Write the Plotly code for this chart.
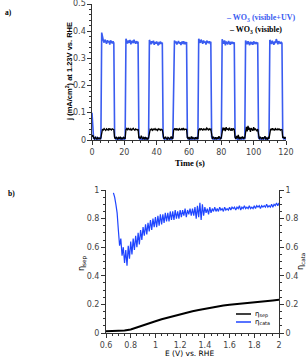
import numpy as np
import plotly.graph_objects as go

W, H = 307, 358

# ---------------- panel a) data ----------------
time_s = np.round(np.arange(0, 120.001, 0.5), 2)

blue_segments = [
    [0.100, 0.012, 0.004, 0.007, 0.003, 0.009, 0.005, 0.002, 0.006, 0.004, 0.008, 0.003],
    [0.395, 0.372, 0.366, 0.358, 0.369, 0.361, 0.354, 0.367, 0.359, 0.364, 0.351, 0.366, 0.360, 0.355, 0.363, 0.357],
    [0.012, 0.005, 0.002, 0.007, 0.004, 0.009, 0.003, 0.006, 0.001, 0.008, 0.004, 0.006, 0.002, 0.005],
    [0.372, 0.362, 0.355, 0.366, 0.358, 0.368, 0.352, 0.361, 0.365, 0.356, 0.369, 0.360, 0.354, 0.363, 0.358, 0.361],
    [0.010, 0.004, 0.007, 0.002, 0.006, 0.003, 0.008, 0.005, 0.001, 0.007, 0.004, 0.006, 0.003],
    [0.368, 0.359, 0.352, 0.363, 0.356, 0.365, 0.350, 0.360, 0.354, 0.362, 0.357, 0.348, 0.361, 0.355, 0.359, 0.353, 0.358],
    [0.011, 0.005, 0.003, 0.008, 0.004, 0.006, 0.002, 0.007, 0.005, 0.003, 0.009, 0.004, 0.006],
    [0.240, 0.366, 0.356, 0.362, 0.351, 0.360, 0.364, 0.355, 0.359, 0.349, 0.361, 0.357, 0.363, 0.352, 0.358, 0.354, 0.360],
    [0.010, 0.004, 0.007, 0.003, 0.006, 0.002, 0.008, 0.005, 0.003, 0.007, 0.004, 0.009, 0.005, 0.002],
    [0.372, 0.364, 0.357, 0.369, 0.360, 0.354, 0.366, 0.358, 0.362, 0.351, 0.365, 0.359, 0.356, 0.363, 0.357, 0.361],
    [0.012, 0.005, 0.003, 0.008, 0.004, 0.010, 0.002, 0.006, 0.004, 0.007, 0.003, 0.008, 0.005],
    [0.370, 0.361, 0.354, 0.366, 0.348, 0.362, 0.357, 0.352, 0.364, 0.358, 0.350, 0.361, 0.356, 0.360, 0.353, 0.359],
    [0.011, 0.004, 0.008, 0.003, 0.006, 0.002, 0.009, 0.005, 0.003, 0.007, 0.004, 0.006, 0.003],
    [0.366, 0.358, 0.352, 0.363, 0.356, 0.349, 0.361, 0.355, 0.359, 0.350, 0.362, 0.357, 0.353, 0.360, 0.355, 0.358],
    [0.010, 0.005, 0.002, 0.007, 0.004, 0.009, 0.003, 0.006, 0.004, 0.008, 0.002, 0.006, 0.004, 0.007],
    [0.368, 0.360, 0.353, 0.365, 0.357, 0.350, 0.362, 0.356, 0.371, 0.358, 0.352, 0.363, 0.357, 0.354, 0.361, 0.356],
    [0.011, 0.005, 0.008, 0.003, 0.006],
]

black_segments = [
    [0.012, 0.018, 0.008, 0.004, 0.010, 0.006, 0.003, 0.009, 0.005, 0.007, 0.004, 0.008],
    [0.036, 0.040, 0.037, 0.042, 0.038, 0.035, 0.041, 0.039, 0.036, 0.043, 0.038, 0.040, 0.037, 0.041, 0.039, 0.038],
    [0.008, 0.004, 0.011, 0.006, 0.003, 0.009, 0.005, 0.012, 0.004, 0.007, 0.003, 0.010, 0.006, 0.005],
    [0.038, 0.042, 0.036, 0.044, 0.039, 0.037, 0.041, 0.035, 0.040, 0.043, 0.038, 0.036, 0.041, 0.039, 0.037, 0.040],
    [0.007, 0.010, 0.004, 0.016, 0.006, 0.003, 0.009, 0.005, 0.011, 0.004, 0.007, 0.003, 0.008],
    [0.035, 0.039, 0.037, 0.041, 0.036, 0.040, 0.038, 0.042, 0.037, 0.039, 0.035, 0.041, 0.038, 0.040, 0.036, 0.039, 0.037],
    [0.009, 0.004, 0.007, 0.012, 0.005, 0.003, 0.010, 0.006, 0.004, 0.008, 0.013, 0.005, 0.007],
    [0.036, 0.041, 0.038, 0.043, 0.037, 0.040, 0.035, 0.042, 0.039, 0.037, 0.041, 0.038, 0.044, 0.036, 0.040, 0.038, 0.039],
    [0.008, 0.005, 0.011, 0.004, 0.007, 0.013, 0.003, 0.009, 0.006, 0.004, 0.010, 0.005, 0.008, 0.004],
    [0.037, 0.041, 0.036, 0.043, 0.039, 0.035, 0.042, 0.038, 0.040, 0.036, 0.044, 0.039, 0.037, 0.041, 0.038, 0.040],
    [0.009, 0.004, 0.012, 0.006, 0.003, 0.010, 0.005, 0.008, 0.004, 0.014, 0.006, 0.003, 0.009],
    [0.040, 0.046, 0.036, 0.044, 0.033, 0.047, 0.038, 0.042, 0.035, 0.045, 0.039, 0.034, 0.043, 0.037, 0.041, 0.038],
    [0.010, 0.004, 0.015, 0.006, 0.019, 0.003, 0.011, 0.005, 0.008, 0.013, 0.004, 0.009, 0.006],
    [0.035, 0.048, 0.032, 0.052, 0.037, 0.045, 0.030, 0.044, 0.039, 0.034, 0.047, 0.036, 0.042, 0.038, 0.033, 0.040],
    [0.009, 0.004, 0.012, 0.006, 0.003, 0.010, 0.005, 0.008, 0.014, 0.004, 0.007, 0.003, 0.009, 0.005],
    [0.036, 0.041, 0.038, 0.043, 0.037, 0.040, 0.035, 0.042, 0.039, 0.037, 0.041, 0.038, 0.040, 0.036, 0.039, 0.038],
    [0.008, 0.012, 0.005, 0.009, 0.006],
]

j_vis_uv = [v for seg in blue_segments for v in seg]
j_vis = [v for seg in black_segments for v in seg]

j_ticks = [0, 0.1, 0.2, 0.3, 0.4, 0.5]
j_tick_labels = ["0", "0.1", "0.2", "0.3", "0.4", "0.5"]

# ---------------- panel b) data ----------------
E_cata = np.round(np.arange(0.66, 2.0001, 0.01), 2)
eta_cata = [
    0.98, 0.95, 0.90, 0.84,
    0.72, 0.61, 0.66, 0.54, 0.60, 0.49, 0.58, 0.47, 0.61, 0.52,
    0.64, 0.55, 0.66, 0.58, 0.68, 0.60, 0.70, 0.62, 0.72, 0.65,
    0.74, 0.68, 0.76, 0.69, 0.77, 0.71, 0.79, 0.72, 0.80, 0.74,
    0.81, 0.74, 0.82, 0.75, 0.83, 0.76, 0.83, 0.77, 0.84, 0.78,
    0.84, 0.78, 0.85, 0.79, 0.85, 0.79, 0.86, 0.80, 0.85, 0.80,
    0.86, 0.81, 0.86, 0.82, 0.87, 0.81, 0.86, 0.83, 0.87, 0.82,
    0.87, 0.82, 0.88, 0.80, 0.89, 0.81, 0.91, 0.79, 0.90, 0.82,
    0.88, 0.84, 0.87, 0.83, 0.88, 0.84, 0.87, 0.85, 0.88, 0.85,
    0.87, 0.85, 0.88, 0.86, 0.87, 0.85, 0.88, 0.86, 0.87, 0.86,
    0.88, 0.86, 0.88, 0.87, 0.88, 0.86, 0.88, 0.87, 0.89, 0.86,
    0.88, 0.87, 0.89, 0.87, 0.88, 0.87, 0.89, 0.87, 0.88, 0.87,
    0.89, 0.87, 0.89, 0.88, 0.89, 0.87, 0.89, 0.88, 0.89, 0.88,
    0.90, 0.88, 0.89, 0.88, 0.90, 0.88, 0.90, 0.89, 0.91, 0.89,
    0.91,
]
E_sep = [0.60, 0.65, 0.70, 0.75, 0.80, 0.85, 0.90, 0.95, 1.00, 1.05, 1.10, 1.15, 1.20, 1.25,
         1.30, 1.35, 1.40, 1.45, 1.50, 1.55, 1.60, 1.65, 1.70, 1.75, 1.80, 1.85, 1.90, 1.95, 2.00]
eta_sep = [0.012, 0.012, 0.013, 0.017, 0.025, 0.038, 0.052, 0.067, 0.082, 0.096, 0.108, 0.120, 0.131, 0.142,
           0.152, 0.161, 0.170, 0.178, 0.186, 0.192, 0.198, 0.203, 0.208, 0.212, 0.216, 0.220, 0.224, 0.228, 0.232]

BLUE_A = "#3a5cf0"
BLUE_B = "#1f45ff"

def px(x):
    return x / W

def py(y):
    return 1 - y / H

fig = go.Figure()
fig.add_trace(go.Scatter(x=time_s, y=j_vis_uv, mode="lines", line=dict(color=BLUE_A, width=1.6),
                         xaxis="x", yaxis="y", showlegend=False))
fig.add_trace(go.Scatter(x=time_s, y=j_vis, mode="lines", line=dict(color="black", width=1.3),
                         xaxis="x", yaxis="y", showlegend=False))
fig.add_trace(go.Scatter(x=E_cata, y=eta_cata, mode="lines", line=dict(color=BLUE_B, width=1.2),
                         xaxis="x2", yaxis="y3", showlegend=False))
fig.add_trace(go.Scatter(x=E_sep, y=eta_sep, mode="lines", line=dict(color="black", width=2),
                         xaxis="x2", yaxis="y2", showlegend=False))

tickfont = dict(family="DejaVu Sans", size=8, color="#444")
axcommon = dict(showline=True, linecolor="#333", linewidth=1, ticks="outside", ticklen=4,
                tickcolor="#333", tickfont=tickfont, showgrid=False, zeroline=False, automargin=False,
                ticklabeloverflow="allow")
minor_style = dict(ticklen=2, ticks="outside", tickcolor="#333", showgrid=False)

fig.update_layout(
    width=W, height=H, autosize=False,
    margin=dict(l=0, r=0, t=0, b=0),
    paper_bgcolor="white", plot_bgcolor="white",
    xaxis=dict(domain=[px(92), px(286)], range=[0, 120], dtick=20, anchor="y",
               minor=dict(dtick=5, **minor_style), **axcommon),
    yaxis=dict(domain=[py(140), py(4)], range=[0, 0.5], tickmode="array",
               tickvals=j_ticks, showticklabels=False, anchor="x",
               minor=dict(tickmode="array", tickvals=[i / 50 for i in range(26)], **minor_style),
               **axcommon),
    xaxis2=dict(domain=[px(106), px(279)], range=[0.6, 2.0], dtick=0.2, anchor="y2",
                minor=dict(tickmode="array", tickvals=[i / 20 for i in range(12, 41)], **minor_style),
                **axcommon),
    yaxis2=dict(domain=[py(333), py(190)], range=[0, 1], dtick=0.2, anchor="x2",
                minor=dict(tickmode="array", tickvals=[i / 20 for i in range(21)], **minor_style),
                **axcommon),
    yaxis3=dict(range=[0, 1], dtick=0.2, anchor="x2", overlaying="y2", side="right",
                minor=dict(tickmode="array", tickvals=[i / 20 for i in range(21)], **minor_style),
                **axcommon),
)

ann = [
    dict(text="<b>a)</b>", x=px(3), y=py(13), xanchor="left", yanchor="middle", font=dict(family="Liberation Serif", size=7.5, color="black")),
    dict(text="<b>b)</b>", x=px(6), y=py(193), xanchor="left", yanchor="middle", font=dict(family="Liberation Serif", size=7.5, color="black")),
    dict(text="<b>j (mA/cm<sup>2</sup>) at 1.23V vs. RHE</b>", x=px(69), y=py(72), textangle=-90,
         xanchor="center", yanchor="middle", font=dict(family="Liberation Sans", size=7.5, color="black")),
    dict(text="<b>Time (s)</b>", x=px(190), y=py(163), xanchor="center", yanchor="middle",
         font=dict(family="Liberation Serif", size=8.5, color="black")),
    dict(text="<b>– WO<sub>3</sub> (visible+UV)</b>", x=px(224), y=py(18), xanchor="left", yanchor="middle",
         font=dict(family="Liberation Serif", size=8, color=BLUE_A)),
    dict(text="<b>– WO<sub>3</sub> (visible)</b>", x=px(227), y=py(30), xanchor="left", yanchor="middle",
         font=dict(family="Liberation Serif", size=8, color="black")),
    dict(text="η<sub>sep</sub>", x=px(82), y=py(264), textangle=-90, xanchor="center", yanchor="middle",
         font=dict(family="DejaVu Sans", size=8, color="black")),
    dict(text="η<sub>cata</sub>", x=px(301), y=py(262), textangle=-90, xanchor="center", yanchor="middle",
         font=dict(family="DejaVu Sans", size=8, color="black")),
    dict(text="E (V) vs. RHE", x=px(189), y=py(353.5), xanchor="center", yanchor="middle",
         font=dict(family="DejaVu Sans", size=7.5, color="black")),
    dict(text="η<sub>sep</sub>", x=px(253), y=py(314), xanchor="left", yanchor="middle",
         font=dict(family="DejaVu Sans", size=7, color="black")),
    dict(text="η<sub>cata</sub>", x=px(253), y=py(322), xanchor="left", yanchor="middle",
         font=dict(family="DejaVu Sans", size=7, color="black")),
]
for a in ann:
    a.update(xref="paper", yref="paper", showarrow=False)
# tick labels of the top panel's j axis, placed through the axis scale
for v, lab in zip(j_ticks, j_tick_labels):
    ann.append(dict(text=lab, xref="paper", yref="y", x=px(87.5), y=v, xanchor="right", yanchor="middle",
                    showarrow=False, font=tickfont))
fig.update_layout(annotations=ann)

fig.update_layout(shapes=[
    dict(type="line", xref="paper", yref="paper", x0=px(236), x1=px(251), y0=py(314), y1=py(314),
         line=dict(color="black", width=1.5)),
    dict(type="line", xref="paper", yref="paper", x0=px(236), x1=px(251), y0=py(322), y1=py(322),
         line=dict(color=BLUE_B, width=1.5)),
])

fig.write_html("out.html",
               config={"displayModeBar": False},
               post_script="document.body.style.margin='0';document.body.style.overflow='hidden';")
